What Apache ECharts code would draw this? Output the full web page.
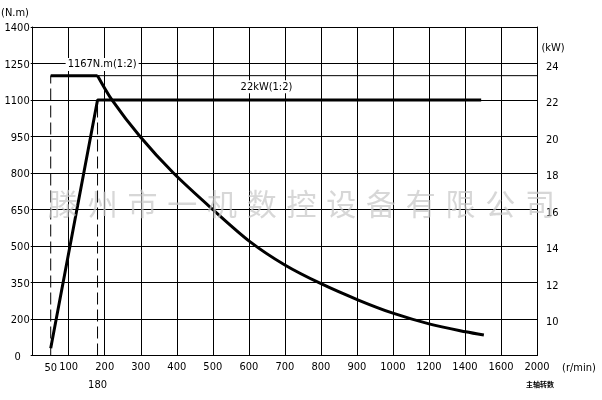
<!DOCTYPE html>
<html><head><meta charset="utf-8">
<script src="https://cdn.jsdelivr.net/npm/echarts@6/dist/echarts.min.js"></script>
<style>html,body{margin:0;padding:0;background:#fff}#c{width:602px;height:400px}</style>
</head><body><div id="c"></div>
<script>
// ---- data ----
const X_TICKS = [0,100,200,300,400,500,600,700,800,900,1000,1200,1400,1600,2000]; // r/min
const Y_TICKS = [0,200,350,500,650,800,950,1100,1250,1400];                      // N.m
const KW_TICKS = [10,12,14,16,18,20,22,24];                                       // kW
const torquePlateau = [[50,1200],[180,1200]];
const torqueFall = [[180,1200],[219,1103],[298,950],[390,801],[500,650],[603,518],[700,422],[802,344],[904,278],[1000,224],[1206,172],[1404,130],[1505,112]];
const powerCurve = [[50,8.4],[180,22],[1490,22]];   // kW
const torqueGuide = [[50,1200],[2000,1200]];
const dash50 = [[50,0],[50,1200]];
const dash180 = [[180,0],[180,1100]];
const WATERMARK = '滕州市一机数控设备有限公司';

// piecewise scale defined by the tick label arrays
function mapTicks(ticks, v){
  for (let i=0;i<ticks.length-1;i++){
    if (v<=ticks[i+1] || i===ticks.length-2) return i + (v-ticks[i])/(ticks[i+1]-ticks[i]);
  }
}
const mx = v => mapTicks(X_TICKS, v);
const my = v => mapTicks(Y_TICKS, v);
const tq = arr => arr.map(d => [mx(d[0]), my(d[1])]);
const pw = arr => arr.map(d => [mx(d[0]), d[1]]);

const F = '"DejaVu Sans Condensed","Liberation Sans Narrow","DejaVu Sans",sans-serif';
const chart = echarts.init(document.getElementById('c'), null, {renderer:'canvas'});
const thick = {color:'#000', width:3};
chart.setOption({
  animation:false,
  backgroundColor:'#fff',
  grid:{left:32.7, right:65, top:27, bottom:44.5, containLabel:false},
  xAxis:{type:'value', min:0, max:14, interval:1,
    axisLine:{show:true, lineStyle:{color:'#000', width:1}},
    axisTick:{show:false},
    splitLine:{show:true, lineStyle:{color:'#000', width:1}},
    axisLabel:{color:'#000', fontSize:11, fontFamily:F, margin:6,
      formatter: v => { const i=Math.round(v); return i===0 ? '' : String(X_TICKS[i]); }}
  },
  yAxis:[
    {type:'value', min:0, max:9, interval:1,
      axisLine:{show:true, lineStyle:{color:'#000', width:1}},
      axisTick:{show:true, length:2, lineStyle:{color:'#000'}},
      splitLine:{show:true, lineStyle:{color:'#000', width:1}},
      axisLabel:{color:'#000', fontSize:11, fontFamily:F, margin:3,
        formatter: v => { const i=Math.round(v); return i===0 ? '{z|0}' : '{n|' + Y_TICKS[i] + '}'; },
        rich:{z:{fontSize:11, fontFamily:F, color:'#000', padding:[3,9,0,0]},
              n:{fontSize:11, fontFamily:F, color:'#000', padding:[3,0,0,0]}}}
    },
    {type:'value', min:8, max:26, interval:2, position:'right',
      axisLine:{show:true, lineStyle:{color:'#000', width:1}},
      axisTick:{show:false},
      splitLine:{show:false},
      axisLabel:{color:'#000', fontSize:11, fontFamily:F, margin:9,
        formatter: v => KW_TICKS.indexOf(Math.round(v))>=0 ? '{a|' + Math.round(v) + '}' : '',
        rich:{a:{fontSize:11, fontFamily:F, color:'#000', padding:[7,0,0,0]}}}
    }
  ],
  series:[
    {type:'line', data:tq(torqueGuide), symbol:'none', lineStyle:{color:'#000', width:1}, z:2},
    {type:'line', data:tq(dash50), symbol:'none', lineStyle:{color:'#000', width:1, type:[12,5]}, z:2},
    {type:'line', data:tq(dash180), symbol:'none', lineStyle:{color:'#000', width:1, type:[12,5]}, z:2},
    {type:'line', data:tq(torquePlateau), symbol:'none', lineStyle:thick, z:3},
    {type:'line', data:tq(torqueFall), symbol:'none', smooth:0.3, lineStyle:thick, z:3},
    {type:'line', yAxisIndex:1, data:pw(powerCurve), symbol:'none', lineStyle:thick, z:3}
  ]
});

const P = (x,y) => chart.convertToPixel({xAxisIndex:0, yAxisIndex:0}, [x,y]);
const K = (x,y) => chart.convertToPixel({xAxisIndex:0, yAxisIndex:1}, [x,y]);
const txt = (x,y,text,opt) => Object.assign({type:'text', x:x, y:y, z:50,
  style:Object.assign({text:text, fill:'#000', font:'11px '+F, align:'center', verticalAlign:'middle'}, opt||{})});
const g = [];
let a = P(mx(50),0); g.push(txt(a[0], a[1]+12.5, '50'));
a = P(mx(180),0); g.push(txt(a[0], a[1]+29.5, '180'));
a = P(mx(2000),0); g.push(txt(a[0]+42, a[1]+12.5, '(r/min)'));
g.push(txt(a[0]+3, a[1]+29, '主轴转数', {font:'bold 7px "Noto Sans CJK SC",sans-serif'}));
a = P(mx(190), my(1250)); g.push(txt(a[0]+1, a[1]+1, '1167N.m(1:2)', {backgroundColor:'#fff', padding:[1,2]}));
a = K(mx(649), 22.73); g.push(txt(a[0], a[1], '22kW(1:2)', {backgroundColor:'#fff', padding:[1,2]}));
a = P(0, 9); g.push(txt(15, a[1]-14, '(N.m)'));
a = K(14, 26); g.push(txt(a[0]+16, a[1]+21, '(kW)'));
// watermark
const wmY = P(0, my(500))[1] - 42;
for (let k=0;k<WATERMARK.length;k++){
  g.push({type:'text', x:63 + 39.75*k, y:wmY, z:60,
    style:{text:WATERMARK[k], fill:'rgba(200,200,200,0.72)', font:'30px "Noto Sans CJK SC",sans-serif', align:'center', verticalAlign:'middle'}});
}
chart.setOption({graphic:g});
</script></body></html>
